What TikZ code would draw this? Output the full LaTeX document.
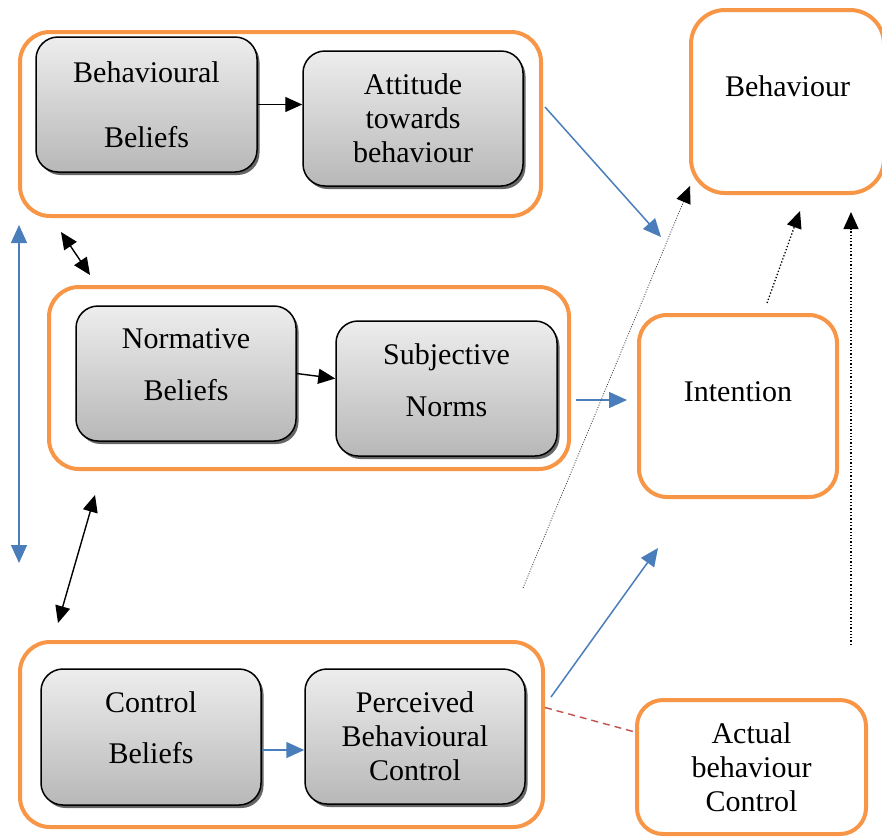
\documentclass[tikz,border=0pt]{standalone}
\usepackage{fontspec}
\setmainfont{Liberation Serif}
\usetikzlibrary{arrows.meta,shadows,calc}
\definecolor{frameorange}{HTML}{F79646}
\definecolor{linkblue}{HTML}{4A7EBB}
\definecolor{linkred}{HTML}{C0504D}
\tikzset{
  ktip/.tip={Triangle[length=17pt,width=15pt]},
  btip/.tip={Triangle[length=18pt,width=16pt]},
  txt/.style={font=\fontsize{30}{34}\selectfont, align=center, inner sep=0pt},
  groupbox/.style={draw=frameorange, line width=4pt, rounded corners=30pt},
  outcomebox/.style={draw=frameorange, fill=white, line width=4pt, rounded corners=28pt, txt},
  beliefbox/.style={draw=black, line width=1.5pt, rounded corners=22pt,
    top color=black!7, bottom color=black!28, txt,
    drop shadow={shadow xshift=2.5pt, shadow yshift=-3pt, fill=black!60, opacity=1}},
  blackarrow/.style={draw=black, line width=1.4pt, -ktip},
  bluearrow/.style={draw=linkblue, line width=1.5pt, -btip},
  dotarrow/.style={draw=black, line width=1.3pt, dotted, -ktip},
}
\begin{document}
\begin{tikzpicture}[x=1pt, y=-1pt]
\useasboundingbox (0,0) rectangle (882,839);

% group frames
\node[groupbox, minimum width=521pt, minimum height=184pt] (g1) at (280.5,124) {};
\node[groupbox, minimum width=520pt, minimum height=182pt] (g2) at (309,378) {};
\node[groupbox, minimum width=523pt, minimum height=185pt] (g3) at (281.5,734.5) {};

% belief / construct boxes
\node[beliefbox, minimum width=221pt, minimum height=135pt] (bb) at (146.5,104.5) {Behavioural\\[31pt]Beliefs};
\node[beliefbox, minimum width=220pt, minimum height=135pt] (att) at (413,118.5) {Attitude\\towards\\behaviour};
\node[beliefbox, minimum width=220pt, minimum height=135pt] (nb) at (186,373.5) {Normative\\[18pt]Beliefs\rule[-18pt]{0pt}{18pt}};
\node[beliefbox, minimum width=221pt, minimum height=135pt] (sn) at (446.5,388.5) {Subjective\\[18pt]Norms\rule[-16pt]{0pt}{16pt}};
\node[beliefbox, minimum width=220pt, minimum height=136pt] (cb) at (151,737) {Control\\[17pt]Beliefs\rule[-19pt]{0pt}{19pt}};
\node[beliefbox, minimum width=220pt, minimum height=135pt] (pbc) at (415,736.5) {Perceived\\Behavioural\\Control};

% outcome boxes
\node[outcomebox, rounded corners=34pt, minimum width=193pt, minimum height=183pt] (beh) at (787.5,101.5) {Behaviour\rule[-30pt]{0pt}{30pt}};
\node[outcomebox, minimum width=198pt, minimum height=182pt] (int) at (738,406) {Intention\rule[-28pt]{0pt}{28pt}};
\node[outcomebox, rounded corners=26pt, minimum width=229pt, minimum height=134pt] (abc) at (751.5,767) {Actual\\behaviour\\Control};

% free ends of connectors
\coordinate (attEnd) at (661,237);
\coordinate (snStart) at (576,400);
\coordinate (snEnd) at (627,400);
\coordinate (pbcStart) at (551,697);
\coordinate (pbcEnd) at (658,548);
\coordinate (abcStart) at (523,588);
\coordinate (abcEnd) at (690,186);
\coordinate (intStart) at (767,303);
\coordinate (intEnd) at (800,211);
\coordinate (ctlStart) at (851,645);
\coordinate (ctlEnd) at (851,212);
\coordinate (leftTop) at (19,225);
\coordinate (leftBot) at (19,563);
\coordinate (c1a) at (61,232);
\coordinate (c1b) at (90,275);
\coordinate (c2a) at (95,495);
\coordinate (c2b) at (58,623);

% arrows inside the groups
\draw[blackarrow] (bb.east) -- (bb.east -| att.west);
\draw[blackarrow] (nb.east) -- ([yshift=10pt]sn.west);
\draw[bluearrow] ([yshift=-13pt]cb.east) -- ([yshift=-13pt]cb.east -| pbc.west);

% paths toward intention and behaviour
\draw[bluearrow] ([xshift=2pt,yshift=17pt]g1.east) -- (attEnd);
\draw[bluearrow] (snStart) -- (snEnd);
\draw[bluearrow] (pbcStart) -- (pbcEnd);
\draw[draw=linkred, line width=1.4pt, dash pattern=on 7pt off 5pt] ([yshift=27pt]g3.east) -- ([yshift=35pt]abc.west);
\draw[draw=black!75, line width=0.8pt, dash pattern=on 1pt off 1.5pt, -{Triangle[length=17pt,width=15pt,color=black,fill=black]}] (abcStart) -- (abcEnd);
\draw[dotarrow] (intStart) -- (intEnd);
\draw[dotarrow] (ctlStart) -- (ctlEnd);

% correlations between belief groups
\draw[draw=linkblue, line width=1.5pt, btip-btip] (leftTop) -- (leftBot);
\draw[draw=black, line width=1.4pt, ktip-ktip] (c1a) -- (c1b);
\draw[draw=black, line width=1.4pt, ktip-ktip] (c2a) -- (c2b);
\end{tikzpicture}
\end{document}
